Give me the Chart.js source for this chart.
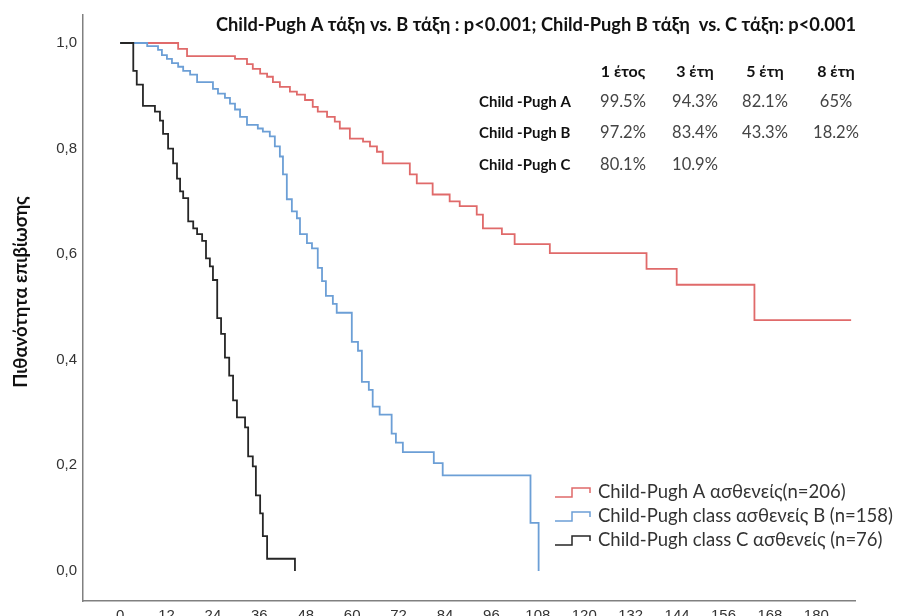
<!DOCTYPE html>
<html>
<head>
<meta charset="utf-8">
<script src="https://cdn.jsdelivr.net/npm/chart.js@4"></script>
<style>
  html, body { margin: 0; padding: 0; background: #fff; overflow: hidden; }
  #wrap { width: 897px; height: 616px; overflow: hidden; }
</style>
</head>
<body>
<div id="wrap"><canvas id="km-chart" width="897" height="640"></canvas></div>
<script>
// months (time of each drop) and survival after the drop
const timesA = [0, 15.0, 17.3, 29.7, 32.8, 34.3, 36.2, 38.0, 39.5, 41.3, 43.9, 45.7, 47.8, 49.8, 51.1, 53.5, 55.5, 56.8, 59.4, 62.8, 64.6, 66.4, 67.9, 74.9, 76.7, 80.8, 85.2, 87.8, 92.2, 93.8, 98.7, 102.0, 111.1, 136.1, 143.9, 164.0, 189];
const survA  = [1, 0.989, 0.975, 0.970, 0.960, 0.951, 0.942, 0.936, 0.926, 0.917, 0.908, 0.902, 0.892, 0.879, 0.870, 0.860, 0.851, 0.838, 0.819, 0.813, 0.804, 0.794, 0.772, 0.751, 0.734, 0.713, 0.700, 0.691, 0.675, 0.649, 0.638, 0.619, 0.602, 0.572, 0.542, 0.475, 0.475];

const timesB = [0, 7.0, 9.8, 10.8, 12.1, 13.4, 15.0, 16.3, 18.1, 19.9, 24.0, 25.3, 27.1, 28.4, 29.7, 31.0, 32.8, 35.6, 36.9, 38.7, 40.0, 41.3, 42.1, 43.1, 44.4, 45.7, 46.5, 48.3, 49.6, 51.1, 52.2, 53.2, 55.0, 56.0, 59.9, 61.5, 62.5, 64.3, 65.3, 67.1, 70.2, 71.3, 73.1, 81.1, 83.4, 106.1, 108.2];
const survB  = [1, 0.994, 0.987, 0.977, 0.970, 0.962, 0.955, 0.947, 0.940, 0.926, 0.913, 0.904, 0.896, 0.885, 0.874, 0.860, 0.845, 0.838, 0.832, 0.823, 0.804, 0.785, 0.751, 0.704, 0.681, 0.668, 0.638, 0.621, 0.611, 0.574, 0.549, 0.521, 0.506, 0.489, 0.434, 0.417, 0.358, 0.343, 0.311, 0.296, 0.260, 0.243, 0.225, 0.204, 0.181, 0.091, 0];

const timesC = [0, 3.4, 4.3, 5.9, 9.0, 10.3, 11.1, 12.4, 13.7, 14.7, 15.5, 16.3, 17.6, 18.9, 19.9, 21.2, 22.2, 23.2, 24.0, 25.1, 26.1, 27.1, 28.2, 29.2, 30.2, 32.3, 33.1, 34.3, 35.1, 36.2, 36.9, 38.0, 45.2];
const survC  = [1, 0.947, 0.921, 0.881, 0.870, 0.853, 0.828, 0.800, 0.772, 0.743, 0.719, 0.706, 0.662, 0.649, 0.638, 0.625, 0.592, 0.577, 0.551, 0.479, 0.449, 0.404, 0.370, 0.323, 0.291, 0.272, 0.217, 0.198, 0.143, 0.109, 0.066, 0.023, 0];

const groupLabels = ["Child-Pugh A ασθενείς(n=206)", "Child-Pugh class ασθενείς B (n=158)", "Child-Pugh class C ασθενείς (n=76)"];
const groupColors = ["#e06a6a", "#6c9fd6", "#262626"];

const xTicks = [0, 12, 24, 36, 48, 60, 72, 84, 96, 108, 120, 132, 144, 156, 168, 180];
const yTicks = [0, 0.2, 0.4, 0.6, 0.8, 1.0];

const titleText = "Child-Pugh A τάξη vs. B τάξη : p<0.001; Child-Pugh B τάξη  vs. C τάξη: p<0.001";
const yTitle = "Πιθανότητα επιβίωσης";
const tableHeads = ["1 έτος", "3 έτη", "5 έτη", "8 έτη"];
const tableRows = ["Child -Pugh A", "Child -Pugh B", "Child -Pugh C"];
const tableValues = [
    ["99.5%", "94.3%", "82.1%", "65%"],
    ["97.2%", "83.4%", "43.3%", "18.2%"],
    ["80.1%", "10.9%"]
];

document.addEventListener("DOMContentLoaded", () => {

    const toPoints = (ts, ss) => ts.map((t, i) => ({ x: t, y: ss[i] }));

    const series = [toPoints(timesA, survA), toPoints(timesB, survB), toPoints(timesC, survC)];

    // title, summary table, y title and legend drawn on top
    const annotations = {
        id: "annotations",
        afterDraw(chart) {
            const ctx = chart.ctx;
            ctx.save();
            ctx.textBaseline = "middle";

            ctx.fillStyle = "#111";
            ctx.font = "bold 18.3px Lato";
            ctx.textAlign = "center";
            ctx.fillText(titleText, 536, 25);

            const colX = [623, 695, 765, 836];
            const rowY = [102, 133, 165];
            ctx.font = "bold 16px Lato";
            tableHeads.forEach((h, i) => ctx.fillText(h, colX[i], 72));
            ctx.textAlign = "left";
            ctx.font = "bold 15px Lato";
            tableRows.forEach((r, i) => ctx.fillText(r, 479, rowY[i]));
            ctx.textAlign = "center";
            ctx.font = "16.5px Lato";
            ctx.fillStyle = "#444";
            tableValues.forEach((row, i) => row.forEach((v, j) => ctx.fillText(v, colX[j], rowY[i])));

            ctx.save();
            ctx.translate(21, 292);
            ctx.rotate(-Math.PI / 2);
            ctx.fillStyle = "#111";
            ctx.font = "bold 18.5px Lato";
            ctx.fillText(yTitle, 0, 0);
            ctx.restore();

            const legY = [492, 516, 540];
            ctx.font = "18.5px Lato";
            ctx.textAlign = "left";
            groupLabels.forEach((label, i) => {
                const y = legY[i];
                ctx.strokeStyle = groupColors[i];
                ctx.lineWidth = 1.5;
                ctx.beginPath();
                ctx.moveTo(555, y + 5);
                ctx.lineTo(572, y + 5);
                ctx.lineTo(572, y - 4);
                ctx.lineTo(590, y - 4);
                ctx.lineTo(590, y + 1);
                ctx.stroke();
                ctx.fillStyle = "#333";
                ctx.fillText(label, 598, y);
            });
            ctx.restore();
        }
    };

    new Chart(document.getElementById("km-chart").getContext("2d"), {
        type: "line",
        data: {
            datasets: series.map((pts, i) => ({
                label: groupLabels[i],
                data: pts,
                borderColor: groupColors[i],
                borderWidth: 1.8,
                stepped: "before",
                pointRadius: 0,
                fill: false,
                order: 2 - i
            }))
        },
        options: {
            responsive: false,
            animation: false,
            layout: { padding: { left: 0, top: 12, right: 42, bottom: 12 } },
            plugins: {
                legend: { display: false },
                tooltip: { enabled: false }
            },
            scales: {
                x: {
                    type: "linear",
                    min: -9.6,
                    max: 190,
                    grid: { display: false, drawTicks: false },
                    border: { display: true, color: "#808080", width: 1.5 },
                    afterBuildTicks: s => { s.ticks = xTicks.map(v => ({ value: v })); },
                    afterFit: s => { s.height = 27; },
                    ticks: {
                        padding: 6,
                        color: "#333",
                        font: { family: "Liberation Sans", size: 15 },
                        autoSkip: false,
                        maxRotation: 0
                    }
                },
                y: {
                    min: -0.057,
                    max: 1.053,
                    grid: { display: false, drawTicks: false },
                    border: { display: true, color: "#808080", width: 1.5 },
                    afterBuildTicks: s => { s.ticks = yTicks.map(v => ({ value: v })); },
                    afterFit: s => { s.width = 83; },
                    ticks: {
                        padding: 6,
                        color: "#333",
                        font: { family: "Liberation Sans", size: 15 },
                        callback: v => v.toFixed(1).replace(".", ",")
                    }
                }
            }
        },
        plugins: [annotations]
    });
});
</script>
</body>
</html>
